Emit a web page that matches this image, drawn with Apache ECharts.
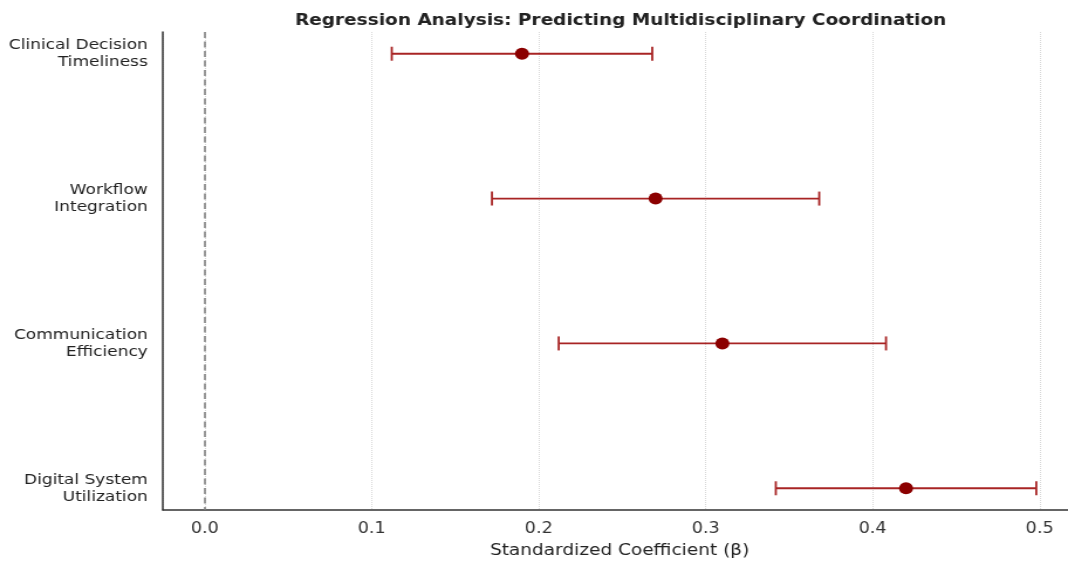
<!DOCTYPE html>
<html>
<head>
<meta charset="utf-8">
<script src="https://cdn.jsdelivr.net/npm/echarts@6/dist/echarts.min.js"></script>
<style>
html,body{margin:0;padding:0;background:#fff;overflow:hidden;width:1068px;height:564px;}
#wrap{position:absolute;left:0;top:0;width:1068px;height:564px;overflow:hidden;}
#c{position:absolute;left:0;top:0;width:912px;height:564px;transform:scaleX(1.17105);transform-origin:0 0;}
</style>
</head>
<body>
<div id="wrap"><div id="c"></div></div>
<script>
const categories = ['Clinical Decision\nTimeliness', 'Workflow\nIntegration', 'Communication\nEfficiency', 'Digital System\nUtilization'];
const betas = [0.19, 0.27, 0.31, 0.42];
const ciLow = [0.112, 0.172, 0.212, 0.342];
const ciHigh = [0.268, 0.368, 0.408, 0.498];
const categoryIndex = [0, 1, 2, 3];

const font = 'DejaVu Sans';
const chart = echarts.init(document.getElementById('c'), null, {renderer: 'canvas'});

const pointData = betas.map((b, i) => [b, i]);
const barData = betas.map((b, i) => [ciLow[i], ciHigh[i], i]);

chart.setOption({
  animation: false,
  backgroundColor: '#fff',
  title: {
    text: 'Regression Analysis: Predicting Multidisciplinary Coordination',
    left: 525, top: 8, textAlign: 'center',
    textStyle: {fontFamily: font, fontWeight: 'bold', fontSize: 15.8, color: '#222'}
  },
  grid: {left: 139.2, right: 0, top: 32, bottom: 50, containLabel: false},
  xAxis: {
    type: 'value', min: -0.025, max: 0.517, splitNumber: 5,
    name: 'Standardized Coefficient (β)', nameLocation: 'middle', nameGap: 33,
    nameTextStyle: {fontFamily: font, fontSize: 15.8, color: '#222', padding: [0, 0, 0, 7]},
    axisLine: {show: true, onZero: false, lineStyle: {color: '#333', width: 1.5}},
    axisTick: {show: false},
    axisLabel: {fontFamily: font, fontSize: 15, color: '#333', margin: 12,
      showMinLabel: false, showMaxLabel: false,
      formatter: v => v.toFixed(1)},
    splitLine: {show: true, lineStyle: {color: '#d8d8d8', type: 'dotted', width: 1}}
  },
  yAxis: {
    type: 'value', min: -0.15, max: 3.15, inverse: true,
    axisLine: {show: true, onZero: false, lineStyle: {color: '#333', width: 1.5}},
    axisTick: {show: false},
    axisLabel: {
      show: true, customValues: categoryIndex, fontFamily: font, fontSize: 14.5, color: '#222',
      margin: 13, lineHeight: 17, align: 'right', verticalAlign: 'middle', padding: [4, 0, 0, 0],
      formatter: v => categories[Math.round(v)] || ''
    },
    splitLine: {show: false}
  },
  series: [
    {
      type: 'custom', data: barData, z: 2,
      renderItem: function (params, api) {
        const y = api.value(2);
        const a = api.coord([api.value(0), y]);
        const b = api.coord([api.value(1), y]);
        const h = 7;
        const style = {stroke: '#a82424', lineWidth: 1.8};
        return {
          type: 'group',
          children: [
            {type: 'line', shape: {x1: a[0], y1: a[1], x2: b[0], y2: b[1]}, style: style},
            {type: 'line', shape: {x1: a[0], y1: a[1] - h, x2: a[0], y2: a[1] + h}, style: style},
            {type: 'line', shape: {x1: b[0], y1: b[1] - h, x2: b[0], y2: b[1] + h}, style: style}
          ]
        };
      }
    },
    {
      type: 'scatter', data: pointData, z: 3,
      symbol: 'circle', symbolSize: 12,
      itemStyle: {color: '#8b0000', opacity: 1},
      markLine: {
        silent: true, symbol: 'none', label: {show: false},
        lineStyle: {color: '#808080', type: [6, 3.5], width: 1.6},
        data: [{xAxis: 0}]
      }
    }
  ]
});
</script>
</body>
</html>
